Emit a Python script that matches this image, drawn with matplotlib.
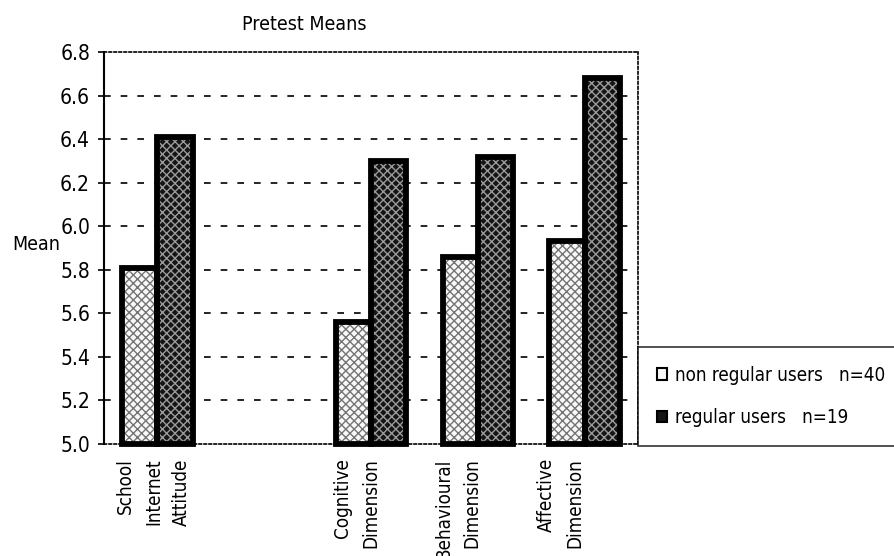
import matplotlib
matplotlib.use("Agg")
import matplotlib.pyplot as plt
import numpy as np
from matplotlib.transforms import ScaledTranslation

plt.rcParams['font.family'] = ['DejaVu Sans']
plt.rcParams['font.stretch'] = 'condensed'
plt.rcParams['hatch.linewidth'] = 1.0

# Pretest means by group
categories = ["School\nInternet\nAttitude", "", "Cognitive\nDimension",
              "Behavioural\nDimension", "Affective\nDimension"]
non_regular = [5.81, np.nan, 5.56, 5.86, 5.93]
regular = [6.41, np.nan, 6.30, 6.32, 6.68]
series_labels = ["non regular users   n=40", "regular users   n=19"]
yticks = [5.0, 5.2, 5.4, 5.6, 5.8, 6.0, 6.2, 6.4, 6.6, 6.8]
label_shift_px = [-4, 0, -14, -20, -24]

fig = plt.figure(figsize=(8.95, 5.56), dpi=100)
ax = fig.add_axes([104 / 895, 1 - 444 / 556, 534 / 895, 392 / 556])

x = np.arange(len(categories))
w = 0.33
base = 5.0

styles = [
    dict(face="#f8f8f8", hatch_col="#747474", hatch="xxxx"),
    dict(face="#151515", hatch_col="#9a9a9a", hatch="xxxx"),
]
handles = []
for i, (vals, st, lab) in enumerate(zip([non_regular, regular], styles, series_labels)):
    vals = np.array(vals, dtype=float)
    offs = (i - 0.5) * w
    heights = vals - base
    # textured fill
    ax.bar(x + offs, heights, w, bottom=base, color=st["face"], edgecolor=st["hatch_col"],
           hatch=st["hatch"], linewidth=0, zorder=2, clip_on=False)
    # heavy outline
    ax.bar(x + offs, heights, w, bottom=base, facecolor="none", edgecolor="black",
           linewidth=4.2, zorder=3, clip_on=False)
    handles.append(plt.Rectangle((0, 0), 1, 1, facecolor=st["face"], edgecolor="black",
                                 linewidth=1.5))

ax.set_xlim(-0.5, len(categories) - 0.5)
ax.set_ylim(5.0, 6.8)
ax.set_yticks(yticks)
ax.set_yticklabels([f"{t:.1f}" for t in yticks], fontsize=15)
ax.tick_params(axis="y", direction="out", length=4, width=1.2, pad=6)
ax.set_xticks([])

# dashed horizontal gridlines
for t in yticks[1:-1]:
    ax.axhline(t, color="black", linewidth=1.2, linestyle=(0, (4, 6)), zorder=1)

ax.spines["left"].set_linewidth(1.5)
for s in ["top", "right", "bottom"]:
    ax.spines[s].set_linestyle((0, (1.5, 1.5)))
    ax.spines[s].set_linewidth(1.2)

# rotated category labels
for xi, lab, dx in zip(x, categories, label_shift_px):
    if not lab:
        continue
    ax.text(xi, 4.935, lab, rotation=90, ha="center", va="top", multialignment="right",
            fontsize=13.5, linespacing=1.62,
            transform=ax.transData + ScaledTranslation(dx / 100, 0, fig.dpi_scale_trans))

fig.text(12 / 895, 1 - 245 / 556, "Mean", fontsize=14, ha="left", va="center")
fig.text(304 / 895, 1 - 25 / 556, "Pretest Means", fontsize=14, ha="center", va="center")

leg = fig.legend(handles, series_labels, loc="upper left",
                 bbox_to_anchor=(638 / 895, 1 - 441 / 556, 0.35, 94 / 556),
                 mode="expand", borderaxespad=0, fontsize=13.5, frameon=True,
                 fancybox=False, handlelength=0.55, handleheight=0.55, handletextpad=0.45,
                 labelspacing=1.25, borderpad=1.0)
leg.get_frame().set_edgecolor("black")
leg.get_frame().set_linewidth(1.2)

fig.savefig("out.png", dpi=100, facecolor="white")
